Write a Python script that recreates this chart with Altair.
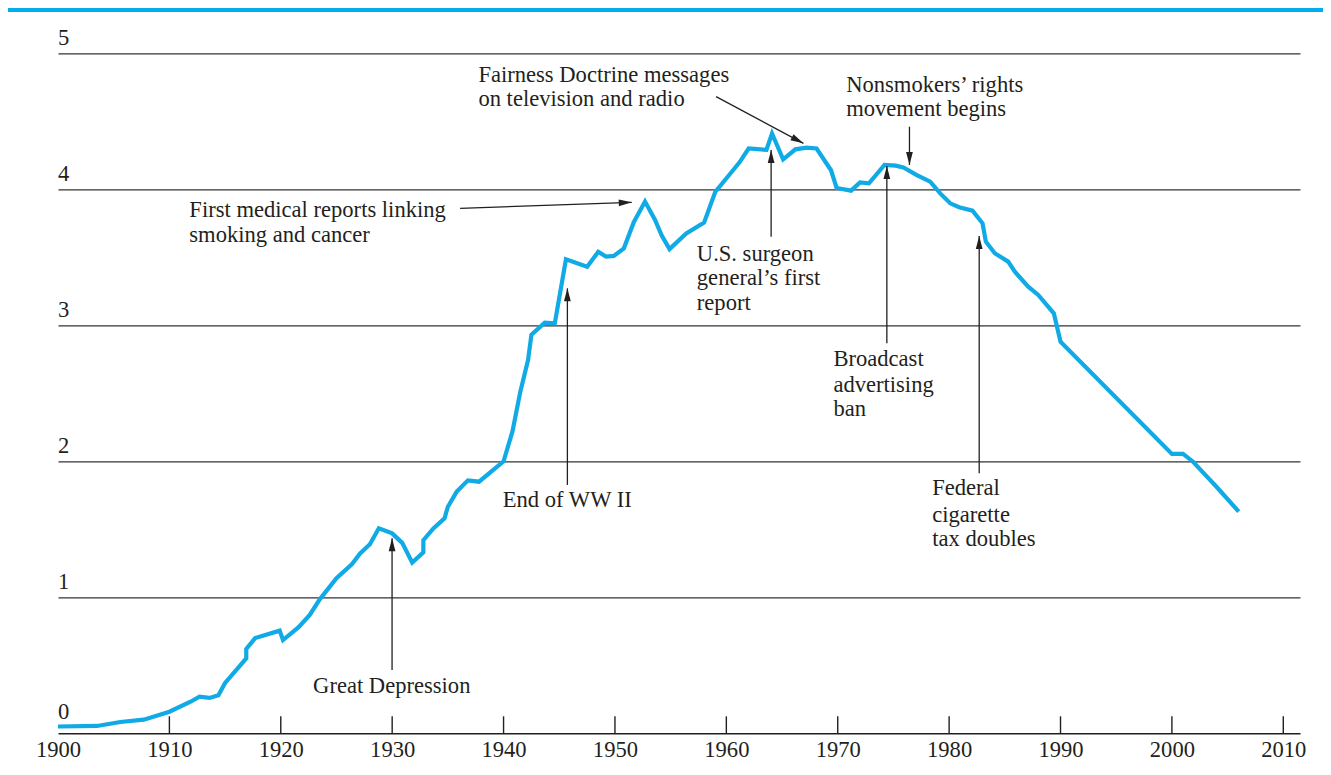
import math
import altair as alt
import pandas as pd

# ---- series (thousands of cigarettes per adult) ----
years = [1900.0, 1903.5, 1905.6, 1907.7, 1910.0, 1911.9, 1912.7, 1913.6, 1914.4, 1915.0,
         1916.9, 1916.9, 1917.7, 1919.9, 1920.2, 1921.6, 1922.6, 1923.5, 1925.0, 1926.4,
         1927.1, 1928.0, 1928.8, 1930.0, 1930.9, 1931.8, 1932.8, 1932.8, 1933.7, 1934.7,
         1935.0, 1935.8, 1936.8, 1937.8, 1940.0, 1940.8, 1941.5, 1942.2, 1942.5, 1943.7,
         1944.6, 1945.6, 1947.5, 1948.5, 1949.2, 1949.9, 1950.8, 1951.7, 1952.7, 1953.6,
         1954.2, 1954.9, 1956.4, 1958.0, 1959.0, 1960.6, 1961.2, 1962.0, 1963.6, 1964.1,
         1965.1, 1966.2, 1967.2, 1968.1, 1969.4, 1969.9, 1971.2, 1972.0, 1972.8, 1974.2,
         1975.2, 1975.9, 1977.1, 1978.3, 1979.2, 1980.1, 1980.9, 1982.1, 1983.0, 1983.3,
         1984.1, 1985.3, 1985.9, 1987.1, 1988.0, 1989.4, 1990.0, 2000.0, 2001.0, 2001.9,
         2003.0, 2004.0, 2006.0]
values = [0.05, 0.054, 0.083, 0.10, 0.159, 0.232, 0.269, 0.26, 0.28, 0.37,
          0.55, 0.62, 0.70, 0.755, 0.686, 0.78, 0.87, 0.985, 1.14, 1.245,
          1.32, 1.39, 1.507, 1.47, 1.40, 1.255, 1.33, 1.42, 1.507, 1.58,
          1.666, 1.777, 1.86, 1.85, 2.0, 2.22, 2.51, 2.745, 2.93, 3.02,
          3.015, 3.485, 3.43, 3.54, 3.505, 3.51, 3.566, 3.76, 3.91, 3.775,
          3.66, 3.56, 3.676, 3.755, 3.98, 4.14, 4.20, 4.30, 4.29, 4.41,
          4.22, 4.294, 4.306, 4.30, 4.14, 4.01, 3.99, 4.05, 4.044, 4.18,
          4.174, 4.16, 4.105, 4.056, 3.97, 3.897, 3.868, 3.843, 3.75, 3.615,
          3.53, 3.468, 3.394, 3.284, 3.223, 3.088, 2.88, 2.054, 2.054, 1.997,
          1.90, 1.813, 1.63]

tick_years = [1910, 1920, 1930, 1940, 1950, 1960, 1970, 1980, 1990, 2000, 2010]
label_years = [1900, 1910, 1920, 1930, 1940, 1950, 1960, 1970, 1980, 1990, 2000, 2010]
y_labels = [0, 1, 2, 3, 4, 5]
grid_values = [1, 2, 3, 4, 5]

# ---- annotations: one row per text line (left edge year, baseline value) ----
ann_text = ["Fairness Doctrine messages", "on television and radio",
            "Nonsmokers\u2019 rights", "movement begins",
            "First medical reports linking", "smoking and cancer",
            "U.S. surgeon", "general\u2019s first", "report",
            "Broadcast", "advertising", "ban",
            "Federal", "cigarette", "tax doubles",
            "End of WW II",
            "Great Depression"]
ann_year = [1937.74, 1937.74,
            1970.76, 1970.76,
            1911.79, 1911.79,
            1957.35, 1957.35, 1957.35,
            1969.61, 1969.61, 1969.61,
            1978.48, 1978.48, 1978.48,
            1939.93,
            1922.90]
ann_value = [4.791, 4.615,
             4.719, 4.539,
             3.799, 3.615,
             3.475, 3.296, 3.113,
             2.701, 2.512, 2.333,
             1.752, 1.556, 1.377,
             1.666,
             0.294]

# ---- arrows: start (year, value) -> tip (year, value) ----
arrow_x1 = [1959.08, 1976.44, 1936.10, 1964.02, 1974.41, 1982.70, 1945.73, 1929.99]
arrow_y1 = [4.681, 4.460, 3.860, 3.651, 2.868, 1.912, 1.826, 0.465]
arrow_x2 = [1966.92, 1976.44, 1951.51, 1964.02, 1974.41, 1982.70, 1945.73, 1929.99]
arrow_y2 = [4.338, 4.179, 3.904, 4.289, 4.172, 3.657, 3.272, 1.434]

# ---- layout / style ----
W, H = 1242, 680
XDOM = [1900, 2011.5]
YDOM = [0, 5]
FONT = "Liberation Serif"
FS = 22.6
INK = "#231F20"
CYAN = "#10AAE6"
BAR = "#00AEEF"

px_per_year = W / (XDOM[1] - XDOM[0])
px_per_unit = H / (YDOM[1] - YDOM[0])

xs = alt.Scale(domain=XDOM, nice=False, zero=False)
ys = alt.Scale(domain=YDOM, nice=False, zero=False)

series = pd.DataFrame({"year": years, "value": values, "i": range(len(years))})
ann = pd.DataFrame({"text": ann_text, "year": ann_year, "value": ann_value})
angles = []
for x1, y1, x2, y2 in zip(arrow_x1, arrow_y1, arrow_x2, arrow_y2):
    dx = (x2 - x1) * px_per_year
    dy = -(y2 - y1) * px_per_unit
    angles.append(math.degrees(math.atan2(dx, -dy)) % 360)
arrows = pd.DataFrame({"x1": arrow_x1, "y1": arrow_y1, "x2": arrow_x2, "y2": arrow_y2,
                       "angle": angles})
ticks = pd.DataFrame({"year": tick_years})
ylab = pd.DataFrame({"v": y_labels, "t": [str(v) for v in y_labels]})

x_axis = alt.Axis(values=label_years, format="d", ticks=False, grid=False,
                  domain=True, domainColor=INK, domainWidth=1.5,
                  labelFont=FONT, labelFontSize=FS, labelColor=INK,
                  labelBaseline="alphabetic", labelPadding=23,
                  labelFlush=False, title=None)
y_axis = alt.Axis(values=grid_values, grid=True, gridColor="#333333",
                  gridWidth=1.3, gridOpacity=1, labels=False, ticks=False,
                  domain=False, title=None)

tick_layer = alt.Chart(ticks).mark_rule(color=INK, strokeWidth=1.4).encode(
    x=alt.X("year:Q", scale=xs, axis=x_axis),
    y=alt.value(H),
    y2=alt.value(H - 17),
)

ylab_main = alt.Chart(ylab).transform_filter("datum.v > 0").mark_text(
    align="left", baseline="alphabetic", dy=-8, font=FONT, fontSize=FS, color=INK
).encode(x=alt.value(0), y=alt.Y("v:Q", scale=ys, axis=y_axis), text="t:N")
ylab_zero = alt.Chart(ylab).transform_filter("datum.v == 0").mark_text(
    align="left", baseline="alphabetic", dy=-14, font=FONT, fontSize=FS, color=INK
).encode(x=alt.value(0), y=alt.Y("v:Q", scale=ys, axis=y_axis), text="t:N")

line_layer = alt.Chart(series).mark_line(color=CYAN, strokeWidth=4.2,
                                         strokeJoin="miter").encode(
    x=alt.X("year:Q", scale=xs, axis=x_axis),
    y=alt.Y("value:Q", scale=ys, axis=y_axis),
    order="i:Q",
)

arrow_lines = alt.Chart(arrows).mark_rule(color=INK, strokeWidth=1.3).encode(
    x=alt.X("x1:Q", scale=xs, axis=x_axis),
    y=alt.Y("y1:Q", scale=ys, axis=y_axis),
    x2="x2:Q",
    y2="y2:Q",
)
arrow_heads = alt.Chart(arrows).mark_point(
    shape="M0,0L0.26,1L-0.26,1Z", filled=True, size=676, color=INK,
    opacity=1, strokeWidth=0
).encode(
    x=alt.X("x2:Q", scale=xs, axis=x_axis),
    y=alt.Y("y2:Q", scale=ys, axis=y_axis),
    angle=alt.Angle("angle:Q", scale=None),
)

ann_layer = alt.Chart(ann).mark_text(
    align="left", baseline="alphabetic", font=FONT, fontSize=FS, color=INK
).encode(
    x=alt.X("year:Q", scale=xs, axis=x_axis),
    y=alt.Y("value:Q", scale=ys, axis=y_axis),
    text="text:N",
)

top_bar = alt.Chart(pd.DataFrame({"k": [0]})).mark_rect(color=BAR).encode(
    x=alt.value(-50), x2=alt.value(W + 23), y=alt.value(-45.3), y2=alt.value(-41.4)
)

chart = alt.layer(
    line_layer, tick_layer, arrow_lines, arrow_heads,
    ann_layer, ylab_main, ylab_zero, top_bar
).properties(
    width=W, height=H,
    background="white",
    autosize=alt.AutoSizeParams(type="none"),
    padding={"left": 50, "top": 45.3, "right": 23, "bottom": 30},
).configure_view(stroke=None)

chart.save("out.html", embed_options={"renderer": "svg", "actions": False})
